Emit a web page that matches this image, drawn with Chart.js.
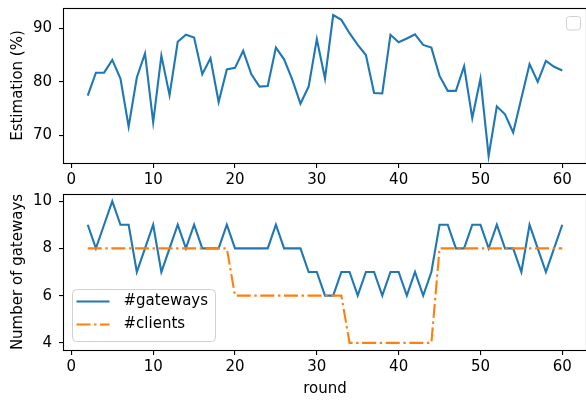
<!DOCTYPE html>
<html>
<head>
<meta charset="utf-8">
<script src="https://cdn.jsdelivr.net/npm/chart.js@4.4.0/dist/chart.umd.min.js"></script>
<style>
  html, body { margin: 0; padding: 0; background: #fff; }
  #wrap { position: relative; width: 586px; height: 401px; overflow: hidden; }
  #wrap canvas { position: absolute; left: 0; }
  #top { top: 0; width: 586px; height: 190px; }
  #bottom { top: 190px; width: 586px; height: 211px; }
</style>
</head>
<body>
<div id="wrap">
  <canvas id="top" width="586" height="190"></canvas>
  <canvas id="bottom" width="586" height="211"></canvas>
</div>
<script>
// rounds on the x axis
const rounds = [2, 3, 4, 5, 6, 7, 8, 9, 10, 11, 12, 13, 14, 15, 16, 17, 18, 19, 20, 21,
  22, 23, 24, 25, 26, 27, 28, 29, 30, 31, 32, 33, 34, 35, 36, 37, 38, 39, 40, 41,
  42, 43, 44, 45, 46, 47, 48, 49, 50, 51, 52, 53, 54, 55, 56, 57, 58, 59, 60];

// top panel: estimation (%)
const estimation = [77.4, 81.7, 81.7, 84.1, 80.6, 71.6, 80.8, 85.3, 72.4, 84.9,
  77.5, 87.5, 88.8, 88.3, 81.4, 84.4, 76.2, 82.3, 82.6, 85.8,
  81.4, 79.1, 79.2, 86.4, 84.2, 80.4, 75.9, 79.1, 88.0, 80.6,
  92.5, 91.6, 89.1, 86.9, 85.0, 77.9, 77.8, 88.8, 87.4, 88.1,
  88.9, 86.9, 86.4, 81.1, 78.3, 78.3, 82.9, 73.2, 80.6, 66.1,
  75.4, 73.9, 70.5, 76.9, 83.3, 80.0, 83.9, 82.8, 82.1];

// bottom panel
const gateways = [9, 8, 9, 10, 9, 9, 7, 8, 9, 7, 8, 9, 8, 9, 8, 8, 8, 9, 8, 8,
  8, 8, 8, 9, 8, 8, 8, 7, 7, 6, 6, 7, 7, 6, 7, 7, 6, 7, 7, 6,
  7, 6, 7, 9, 9, 8, 8, 9, 9, 8, 9, 8, 8, 7, 9, 8, 7, 8, 9];
const clients = [8, 8, 8, 8, 8, 8, 8, 8, 8, 8, 8, 8, 8, 8, 8, 8, 8, 8, 6, 6,
  6, 6, 6, 6, 6, 6, 6, 6, 6, 6, 6, 6, 4, 4, 4, 4, 4, 4, 4, 4,
  4, 4, 4, 8, 8, 8, 8, 8, 8, 8, 8, 8, 8, 8, 8, 8, 8, 8, 8];

// tick labels
const xTicks = [0, 10, 20, 30, 40, 50, 60];
const estTicks = [70, 80, 90];
const gwTicks = [4, 6, 8, 10];

const BLUE = '#1f77b4';
const ORANGE = '#ff7f0e';

Chart.defaults.font.family = "'DejaVu Sans', sans-serif";
Chart.defaults.font.size = 15;
Chart.defaults.font.lineHeight = 1.2;
Chart.defaults.color = '#000';

// matplotlib-like 5% margins around the data
function padRange(arr) {
  const lo = Math.min(...arr), hi = Math.max(...arr);
  const m = (hi - lo) * 0.05;
  return [lo - m, hi + m];
}
const [xMin, xMax] = padRange(rounds);
const [estMin, estMax] = padRange(estimation);
const [gwMin, gwMax] = padRange(gateways.concat(clients));

function points(vals) {
  return rounds.map((r, i) => ({ x: r, y: vals[i] }));
}

function roundRectPath(ctx, x, y, w, h, r) {
  ctx.beginPath();
  ctx.moveTo(x + r, y);
  ctx.lineTo(x + w - r, y);
  ctx.quadraticCurveTo(x + w, y, x + w, y + r);
  ctx.lineTo(x + w, y + h - r);
  ctx.quadraticCurveTo(x + w, y + h, x + w - r, y + h);
  ctx.lineTo(x + r, y + h);
  ctx.quadraticCurveTo(x, y + h, x, y + h - r);
  ctx.lineTo(x, y + r);
  ctx.quadraticCurveTo(x, y, x + r, y);
  ctx.closePath();
}

// axes box (all four spines)
const framePlugin = {
  id: 'frame',
  afterDraw(chart) {
    const { ctx, chartArea: a } = chart;
    ctx.save();
    ctx.strokeStyle = '#000';
    ctx.lineWidth = 1.1;
    ctx.strokeRect(a.left - 0.5, a.top + 0.5, a.right - a.left + 1, a.bottom - a.top);
    ctx.restore();
  }
};

// empty legend box in the top panel
const emptyLegend = {
  id: 'emptyLegend',
  afterDraw(chart) {
    const { ctx, chartArea: a } = chart;
    ctx.save();
    roundRectPath(ctx, a.right - 19.5, a.top + 8.5, 14, 13.5, 3);
    ctx.fillStyle = 'rgba(255,255,255,0.8)';
    ctx.fill();
    ctx.strokeStyle = '#d0d0d0';
    ctx.lineWidth = 1;
    ctx.stroke();
    ctx.restore();
  }
};

// legend in the lower left of the bottom panel
const boxLegend = {
  id: 'boxLegend',
  afterDraw(chart) {
    const { ctx, chartArea: a } = chart;
    const bx = a.left + 8.5, by = a.bottom - 60.5, bw = 143, bh = 52;
    ctx.save();
    roundRectPath(ctx, bx, by, bw, bh, 4);
    ctx.fillStyle = 'rgba(255,255,255,0.8)';
    ctx.fill();
    ctx.strokeStyle = '#d0d0d0';
    ctx.lineWidth = 1;
    ctx.stroke();
    chart.data.datasets.forEach((ds, i) => {
      const y = by + 12 + i * 23;
      ctx.beginPath();
      ctx.strokeStyle = ds.borderColor;
      ctx.lineWidth = ds.borderWidth;
      ctx.setLineDash(ds.borderDash || []);
      ctx.moveTo(bx + 4, y);
      ctx.lineTo(bx + 37, y);
      ctx.stroke();
      ctx.setLineDash([]);
      ctx.fillStyle = '#000';
      ctx.font = "15px 'DejaVu Sans', sans-serif";
      ctx.textBaseline = 'middle';
      ctx.fillText(ds.label, bx + 51, y);
    });
    ctx.restore();
  }
};

function xScale(height, title) {
  return {
    type: 'linear',
    min: xMin,
    max: xMax,
    afterBuildTicks: s => { s.ticks = xTicks.map(v => ({ value: v })); },
    afterFit: s => { s.height = height; s.paddingLeft = 0; s.paddingRight = 0; },
    grid: { drawOnChartArea: false, tickLength: 5, tickColor: '#000', lineWidth: 1.1 },
    border: { display: false },
    ticks: { padding: 3, maxRotation: 0, autoSkip: false },
    title: title
      ? { display: true, text: title, padding: { top: 0, bottom: 3 } }
      : { display: false }
  };
}

function yScale(lo, hi, ticks, title) {
  return {
    min: lo,
    max: hi,
    afterBuildTicks: s => { s.ticks = ticks.map(v => ({ value: v })); },
    afterFit: s => { s.width = 64; s.paddingTop = 0; s.paddingBottom = 0; },
    grid: { drawOnChartArea: false, tickLength: 5, tickColor: '#000', lineWidth: 1.1 },
    border: { display: false },
    ticks: { padding: 7 },
    title: { display: true, text: title, padding: { top: 9, bottom: 0 } }
  };
}

const common = {
  responsive: false,
  animation: false,
  events: [],
  plugins: { legend: { display: false }, tooltip: { enabled: false } },
  elements: { point: { radius: 0 }, line: { tension: 0 } }
};

new Chart(document.getElementById('top'), {
  type: 'line',
  data: {
    datasets: [{
      label: 'Estimation',
      data: points(estimation),
      borderColor: BLUE,
      borderWidth: 2.1,
      fill: false
    }]
  },
  options: Object.assign({}, common, {
    layout: { padding: { top: 8, left: 0, right: 0, bottom: 0 } },
    scales: {
      x: xScale(27, null),
      y: yScale(estMin, estMax, estTicks, 'Estimation (%)')
    }
  }),
  plugins: [framePlugin, emptyLegend]
});

new Chart(document.getElementById('bottom'), {
  type: 'line',
  data: {
    datasets: [{
      label: '#gateways',
      data: points(gateways),
      borderColor: BLUE,
      borderWidth: 2.1,
      fill: false,
      order: 1
    }, {
      label: '#clients',
      data: points(clients),
      borderColor: ORANGE,
      borderWidth: 2.1,
      borderDash: [14, 3.6, 2.4, 3.6],
      fill: false,
      order: 0
    }]
  },
  options: Object.assign({}, common, {
    layout: { padding: { top: 4, left: 0, right: 0, bottom: 0 } },
    scales: {
      x: xScale(51, 'round'),
      y: yScale(gwMin, gwMax, gwTicks, 'Number of gateways')
    }
  }),
  plugins: [framePlugin, boxLegend]
});
</script>
</body>
</html>
